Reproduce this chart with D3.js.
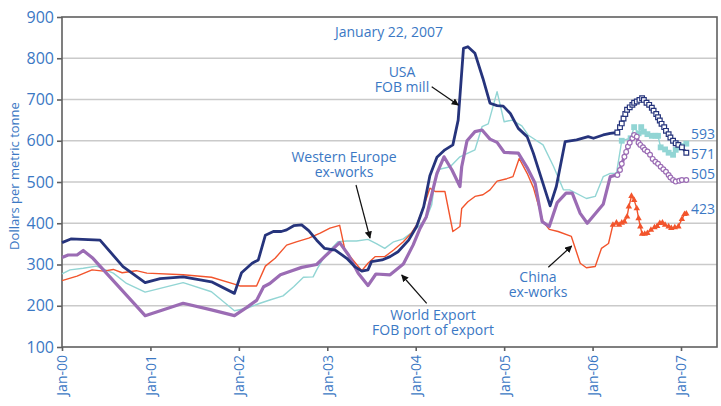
<!DOCTYPE html>
<html>
<head>
<meta charset="utf-8">
<script src="https://cdn.jsdelivr.net/npm/d3@7"></script>
<style>
  body { margin: 0; background: #fff; }
  svg { font-family: "Open Sans", sans-serif; }
</style>
</head>
<body>
<script>
// data: [decimal year, dollars per metric tonne]
var usaLine = [[2000.00,353],[2000.10,362],[2000.43,359],[2000.69,295],[2000.94,256],[2001.11,266],[2001.37,270],[2001.69,258],[2001.95,230],[2002.03,280],[2002.15,303],[2002.22,311],[2002.30,371],[2002.39,380],[2002.48,380],[2002.54,384],[2002.62,394],[2002.71,396],[2002.79,382],[2002.88,359],[2002.97,339],[2003.09,335],[2003.22,315],[2003.31,295],[2003.39,284],[2003.46,287],[2003.50,307],[2003.62,311],[2003.71,319],[2003.80,331],[2003.92,359],[2004.01,392],[2004.09,440],[2004.16,515],[2004.24,560],[2004.33,578],[2004.42,590],[2004.48,650],[2004.54,824],[2004.59,828],[2004.67,812],[2004.76,751],[2004.84,691],[2004.92,685],[2004.99,684],[2005.07,666],[2005.16,630],[2005.26,610],[2005.33,570],[2005.52,442],[2005.59,489],[2005.69,598],[2005.82,602],[2005.95,610],[2006.01,606],[2006.12,614],[2006.20,618]];
var usaWeekly = [[2006.28,620],[2006.31,633],[2006.33,642],[2006.35,654],[2006.37,665],[2006.39,675],[2006.42,681],[2006.45,687],[2006.47,692],[2006.50,695],[2006.53,699],[2006.56,703],[2006.58,699],[2006.61,692],[2006.64,687],[2006.67,680],[2006.69,673],[2006.72,665],[2006.74,657],[2006.76,649],[2006.78,641],[2006.81,633],[2006.83,624],[2006.86,616],[2006.88,608],[2006.91,600],[2006.94,594],[2006.97,590],[2007.01,584],[2007.06,571]];

var chinaLine = [[2000.00,261],[2000.17,272],[2000.34,287],[2000.47,284],[2000.58,288],[2000.68,280],[2000.84,285],[2000.96,279],[2001.37,275],[2001.69,269],[2001.94,253],[2002.01,248],[2002.20,248],[2002.30,296],[2002.41,315],[2002.54,347],[2002.65,355],[2002.79,364],[2002.92,376],[2003.03,388],[2003.14,395],[2003.20,335],[2003.29,311],[2003.39,285],[2003.46,303],[2003.54,319],[2003.65,319],[2003.75,335],[2003.86,355],[2003.95,376],[2004.01,396],[2004.09,440],[2004.16,485],[2004.22,477],[2004.33,477],[2004.42,380],[2004.50,392],[2004.52,436],[2004.59,452],[2004.67,465],[2004.76,469],[2004.84,481],[2004.92,502],[2005.03,508],[2005.10,513],[2005.17,557],[2005.26,521],[2005.33,487],[2005.44,404],[2005.51,385],[2005.61,380],[2005.76,368],[2005.86,303],[2005.93,292],[2006.03,295],[2006.10,339],[2006.18,351]];
var chinaWeekly = [[2006.23,396],[2006.27,401],[2006.30,396],[2006.33,401],[2006.36,404],[2006.39,416],[2006.41,440],[2006.44,466],[2006.47,456],[2006.50,436],[2006.52,412],[2006.54,392],[2006.56,374],[2006.59,374],[2006.62,376],[2006.66,384],[2006.70,390],[2006.73,393],[2006.76,400],[2006.79,401],[2006.82,396],[2006.86,392],[2006.89,388],[2006.93,390],[2006.97,392],[2007.01,410],[2007.04,422],[2007.06,423]];

var europeLine = [[2000.00,277],[2000.09,287],[2000.24,291],[2000.39,296],[2000.58,279],[2000.73,254],[2000.94,233],[2001.11,242],[2001.37,256],[2001.69,234],[2001.95,188],[2002.09,194],[2002.24,206],[2002.35,214],[2002.50,224],[2002.62,246],[2002.73,269],[2002.84,270],[2002.88,287],[2002.97,321],[2003.12,355],[2003.22,357],[2003.33,357],[2003.46,361],[2003.56,350],[2003.65,339],[2003.75,355],[2003.86,362],[2003.97,380],[2004.05,396],[2004.12,412],[2004.18,444],[2004.22,505],[2004.27,531],[2004.39,537],[2004.50,561],[2004.67,578],[2004.75,634],[2004.82,641],[2004.92,719],[2005.00,646],[2005.09,650],[2005.20,636],[2005.27,614],[2005.44,590],[2005.56,537],[2005.67,481],[2005.74,481],[2005.93,460],[2006.03,465],[2006.12,513],[2006.20,521],[2006.27,521]];
var europeWeekly = [[2006.33,600],[2006.43,606],[2006.47,633],[2006.52,618],[2006.55,633],[2006.58,622],[2006.62,616],[2006.67,612],[2006.71,612],[2006.74,612],[2006.77,584],[2006.82,579],[2006.86,571],[2006.91,566],[2006.94,578],[2006.98,584],[2007.01,587],[2007.06,593]];

var worldLine = [[2000.00,317],[2000.07,323],[2000.17,323],[2000.24,334],[2000.35,315],[2000.94,176],[2001.37,206],[2001.69,190],[2001.95,176],[2002.09,196],[2002.20,213],[2002.28,246],[2002.35,254],[2002.47,275],[2002.60,285],[2002.71,293],[2002.88,300],[2002.97,319],[2003.14,353],[2003.24,323],[2003.35,279],[2003.46,249],[2003.55,277],[2003.71,275],[2003.86,301],[2003.97,347],[2004.05,388],[2004.12,416],[2004.24,521],[2004.32,561],[2004.41,529],[2004.50,489],[2004.52,537],[2004.58,600],[2004.67,622],[2004.75,626],[2004.84,604],[2004.92,596],[2005.00,572],[2005.16,570],[2005.26,535],[2005.35,497],[2005.43,404],[2005.51,392],[2005.60,450],[2005.70,473],[2005.77,473],[2005.86,424],[2005.94,400],[2006.12,446],[2006.20,513],[2006.27,517]];
var worldWeekly = [[2006.28,517],[2006.31,529],[2006.33,544],[2006.36,561],[2006.38,573],[2006.40,586],[2006.42,595],[2006.45,606],[2006.47,614],[2006.50,610],[2006.52,595],[2006.54,590],[2006.57,584],[2006.59,578],[2006.62,574],[2006.65,566],[2006.68,556],[2006.71,549],[2006.74,544],[2006.77,537],[2006.80,531],[2006.83,525],[2006.86,517],[2006.88,511],[2006.91,505],[2006.94,501],[2006.98,503],[2007.01,505],[2007.06,505]];

var yearTicks = [2000, 2001, 2002, 2003, 2004, 2005, 2006, 2007];
var yearLabels = ["Jan-00", "Jan-01", "Jan-02", "Jan-03", "Jan-04", "Jan-05", "Jan-06", "Jan-07"];
var valueTicks = [100, 200, 300, 400, 500, 600, 700, 800, 900];
var endLabels = ["593", "571", "505", "423"];

var blue = "#3b78c4";
var navy = "#26347c";
var purple = "#9b6cb4";
var orange = "#f2542c";
var teal = "#92d5d4";

var svg = d3.select("body").append("svg")
  .attr("width", 721)
  .attr("height", 406);

var plotL = 62, plotR = 717, plotT = 17, plotB = 347;

var x = d3.scaleLinear().domain([2000, 2007.407]).range([plotL, plotR]);
var y = d3.scaleLinear().domain([100, 900]).range([plotB, plotT]);

// grid
svg.append("g")
  .selectAll("line")
  .data(valueTicks.slice(1, -1))
  .enter()
  .append("line")
  .attr("x1", plotL).attr("x2", plotR)
  .attr("y1", function(d) { return y(d); })
  .attr("y2", function(d) { return y(d); })
  .attr("stroke", "#cacaca")
  .attr("stroke-width", 1.6);

// frame
svg.append("rect")
  .attr("x", plotL).attr("y", plotT)
  .attr("width", plotR - plotL).attr("height", plotB - plotT)
  .attr("fill", "none")
  .attr("stroke", "#5f5f5f")
  .attr("stroke-width", 1.6);

// axes
var yAxis = svg.append("g")
  .attr("transform", "translate(" + plotL + ",0)")
  .call(d3.axisLeft(y).tickValues(valueTicks).tickSize(5).tickPadding(3));
yAxis.select(".domain").remove();
yAxis.selectAll("line").attr("stroke", "#5f5f5f").attr("stroke-width", 1.6);
yAxis.selectAll("text")
  .attr("fill", blue)
  .style("font-size", "16px")
  .style("font-family", "Open Sans");

var xAxis = svg.append("g")
  .attr("transform", "translate(0," + plotB + ")")
  .call(d3.axisBottom(x).tickValues(yearTicks).tickSize(4)
    .tickFormat(function(d, i) { return yearLabels[i]; }));
xAxis.select(".domain").remove();
xAxis.selectAll("line").attr("stroke", "#5f5f5f").attr("stroke-width", 1.6);
xAxis.selectAll("text")
  .attr("fill", blue)
  .style("font-size", "14px")
  .style("font-family", "Open Sans")
  .attr("text-anchor", "end")
  .attr("transform", "rotate(-90)")
  .attr("x", -8)
  .attr("y", 0)
  .attr("dy", "0.35em");

svg.append("text")
  .attr("transform", "translate(19,176) rotate(-90)")
  .attr("text-anchor", "middle")
  .attr("fill", blue)
  .style("font-size", "13px")
  .text("Dollars per metric tonne");

// lines
var line = d3.line()
  .x(function(d) { return x(d[0]); })
  .y(function(d) { return y(d[1]); });

var series = [
  { main: europeLine, weekly: europeWeekly, color: teal, width: 1.4, mark: "fsquare" },
  { main: chinaLine, weekly: chinaWeekly, color: orange, width: 1.4, mark: "triangle" },
  { main: worldLine, weekly: worldWeekly, color: purple, width: 3.2, mark: "circle" },
  { main: usaLine, weekly: usaWeekly, color: navy, width: 2.8, mark: "square" }
];

series.forEach(function(s) {
  svg.append("path")
    .datum(s.main.concat(s.weekly))
    .attr("fill", "none")
    .attr("stroke", s.color)
    .attr("stroke-width", s.width)
    .attr("stroke-linejoin", "round")
    .attr("d", line);
});

// markers on the weekly part
series.forEach(function(s) {
  var g = svg.append("g");
  var pts = g.selectAll("path").data(s.weekly).enter().append("path")
    .attr("transform", function(d) { return "translate(" + x(d[0]) + "," + y(d[1]) + ")"; });
  if (s.mark == "square") {
    pts.attr("d", d3.symbol().type(d3.symbolSquare).size(22))
      .attr("fill", "#fff").attr("stroke", s.color).attr("stroke-width", 1.2);
  } else if (s.mark == "fsquare") {
    pts.attr("d", d3.symbol().type(d3.symbolSquare).size(34))
      .attr("fill", s.color);
  } else if (s.mark == "circle") {
    pts.attr("d", d3.symbol().type(d3.symbolCircle).size(18))
      .attr("fill", "#fff").attr("stroke", s.color).attr("stroke-width", 1.2);
  } else {
    pts.attr("d", d3.symbol().type(d3.symbolTriangle).size(18))
      .attr("fill", s.color);
  }
});

// end values
var endYs = [139, 159, 179, 214];
svg.selectAll(".endlabel")
  .data(endLabels)
  .enter()
  .append("text")
  .attr("x", 691)
  .attr("y", function(d, i) { return endYs[i]; })
  .attr("fill", blue)
  .style("font-size", "14px")
  .text(function(d) { return d; });

// annotations
var notes = [
  { lines: ["January 22, 2007"], x: 389, y: 37 },
  { lines: ["USA", "FOB mill"], x: 402, y: 77 },
  { lines: ["Western Europe", "ex-works"], x: 344, y: 162 },
  { lines: ["World Export", "FOB port of export"], x: 433, y: 320 },
  { lines: ["China", "ex-works"], x: 538, y: 282 }
];
notes.forEach(function(n) {
  n.lines.forEach(function(l, i) {
    svg.append("text")
      .attr("text-anchor", "middle")
      .attr("fill", blue)
      .style("font-size", "14px")
      .attr("x", n.x)
      .attr("y", n.y + i * 15)
      .text(l);
  });
});

svg.append("defs").append("marker")
  .attr("id", "head")
  .attr("viewBox", "0 0 10 10")
  .attr("refX", 9).attr("refY", 5)
  .attr("markerWidth", 6).attr("markerHeight", 6)
  .attr("orient", "auto")
  .append("path")
  .attr("d", "M0,0 L10,5 L0,10 z")
  .attr("fill", "#111");

var arrows = [
  [431.7, 86.7, 458.3, 105],
  [356, 185, 370, 238],
  [426.7, 303.3, 401.7, 275],
  [548.3, 267.3, 571.7, 246]
];
svg.selectAll(".arrow")
  .data(arrows)
  .enter()
  .append("line")
  .attr("x1", function(d) { return d[0]; })
  .attr("y1", function(d) { return d[1]; })
  .attr("x2", function(d) { return d[2]; })
  .attr("y2", function(d) { return d[3]; })
  .attr("stroke", "#111")
  .attr("stroke-width", 1.2)
  .attr("marker-end", "url(#head)");
</script>
</body>
</html>
